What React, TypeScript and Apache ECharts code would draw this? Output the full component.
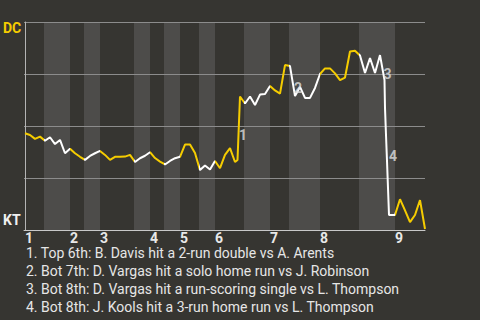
import React, { useEffect, useRef } from 'react';
import * as echarts from 'echarts';

// play index (x) and DC win probability in % (y)
const playIndex = [
  0, 1, 2, 3, 4, 5, 6, 7, 8, 9, 10, 11, 12, 13, 14, 15, 16, 17, 18, 19, 20,
  21, 22, 23, 24, 25, 26, 27, 28, 29, 30, 31, 32, 33, 34, 35, 36, 37, 38, 39, 40,
  41, 42, 42.5, 43, 44, 45, 46, 47, 48, 49, 50, 51, 52, 53, 54, 55, 56, 57, 58, 59,
  60, 61, 62, 63, 64, 65, 66, 67, 68, 69, 70, 71, 71.9, 72, 72.2, 72.4, 72.6, 72.8,
  74, 75, 76, 77, 78, 79, 80,
];
const dcWinPct = [
  46.5, 45.7, 43.8, 44.9, 42.9, 44.6, 41.3, 43.3, 36.9, 39.1, 36.9, 35.2, 33.7, 35.6, 36.9, 38.0, 36.1, 33.7, 35.2, 35.2, 35.3,
  36.1, 32.7, 34.5, 35.7, 37.4, 34.6, 32.9, 31.5, 33.2, 34.5, 35.2, 41.1, 41.1, 37.0, 28.8, 31.0, 29.1, 33.2, 29.7, 36.1,
  39.4, 32.7, 33.7, 64.2, 60.8, 64.2, 60.1, 65.1, 65.4, 69.2, 67.1, 65.6, 79.3, 78.8, 64.4, 68.8, 63.5, 63.5, 68.3, 75.0,
  77.7, 77.7, 75.3, 72.1, 73.3, 85.8, 86.2, 83.9, 75.5, 82.7, 75.5, 84.1, 72.1, 58.7, 45.7, 33.2, 20.2, 7.2,
  7.2, 14.8, 9.4, 3.8, 7.2, 14.4, 0.5,
];

// start of each half inning (top 1, bot 1, top 2, ...), in play index
const halfInningStarts = [0, 3.8, 9, 11.8, 15, 21.8, 25, 27.8, 31, 34.8, 38, 43.8, 49, 52.8, 59, 66.8, 74];
const lastPlay = 80;
const inningLabels = ['1', '2', '3', '4', '5', '6', '7', '8', '9'];

const awayTeam = 'DC';
const homeTeam = 'KT';

const annotationIds = ['1', '2', '3', '4'];
const annotationX = [43.6, 54.6, 72.5, 73.6];
const annotationY = [45.7, 68.1, 74.9, 35.8];

const notes = [
  '1. Top 6th: B. Davis hit a 2-run double vs A. Arents',
  '2. Bot 7th: D. Vargas hit a solo home run vs J. Robinson',
  '3. Bot 8th: D. Vargas hit a run-scoring single vs L. Thompson',
  '4. Bot 8th: J. Kools hit a 3-run home run vs L. Thompson',
];

const YELLOW = '#f5cc00';
const WHITE = '#ffffff';
const BG = '#363531';
const BAND = '#4d4c4a';
const FONT = 'Roboto';

export default function App() {
  const ref = useRef<HTMLDivElement>(null);

  useEffect(() => {
    if (!ref.current) return;
    const chart = echarts.init(ref.current, undefined, { renderer: 'svg' });

    const topStarts = halfInningStarts.filter((_, i) => i % 2 === 0);

    const bands: any[] = [];
    for (let k = 1; k < halfInningStarts.length; k += 2) {
      const end = k + 1 < halfInningStarts.length ? halfInningStarts[k + 1] : lastPlay;
      bands.push([{ xAxis: halfInningStarts[k] }, { xAxis: end }]);
    }

    const pieces: any[] = halfInningStarts.map((s, k) => {
      const p: any = { color: k % 2 === 0 ? YELLOW : WHITE };
      if (k > 0) p.gte = s;
      if (k + 1 < halfInningStarts.length) p.lt = halfInningStarts[k + 1];
      return p;
    });

    const graphics: any[] = [
      {
        type: 'text',
        x: 3,
        y: 28,
        style: { text: awayTeam, fill: YELLOW, font: `bold 14px ${FONT}`, verticalAlign: 'middle', lineHeight: 14 },
      },
      {
        type: 'text',
        x: 3,
        y: 220,
        style: { text: homeTeam, fill: '#f0f0f0', font: `bold 14px ${FONT}`, verticalAlign: 'middle', lineHeight: 14 },
      },
      ...notes.map((t, i) => ({
        type: 'text',
        x: 26,
        y: 253 + i * 18,
        style: { text: t, fill: '#e6e6e6', font: `14px ${FONT}`, verticalAlign: 'middle', lineHeight: 14 },
      })),
    ];

    chart.setOption({
      animation: false,
      backgroundColor: BG,
      grid: { left: 24, right: 55, top: 22, bottom: 90, containLabel: false },
      xAxis: {
        type: 'value',
        min: -0.2,
        max: lastPlay,
        z: 1,
        axisLine: { show: true, lineStyle: { color: '#c8c8c8', width: 1 } },
        axisTick: { show: false },
        splitLine: { show: false },
        axisLabel: {
          customValues: topStarts,
          formatter: (v: number) => {
            const idx = topStarts.findIndex((s) => Math.abs(s - v) < 1e-6);
            return idx >= 0 ? inningLabels[idx] : '';
          },
          align: 'left',
          margin: 1,
          lineHeight: 13,
          color: '#e8e8e8',
          fontSize: 14,
          fontWeight: 'bold',
          fontFamily: FONT,
        },
      },
      yAxis: {
        type: 'value',
        min: 0,
        max: 100,
        interval: 25,
        z: 1,
        axisLine: { show: true, lineStyle: { color: '#b4b4b4', width: 1 } },
        axisTick: { show: false },
        axisLabel: { show: false },
        splitLine: { show: true, lineStyle: { color: '#8c8c8c', width: 1 } },
      },
      visualMap: {
        type: 'piecewise',
        show: false,
        seriesIndex: 0,
        dimension: 0,
        pieces,
      },
      graphic: graphics,
      series: [
        {
          type: 'line',
          data: playIndex.map((x, i) => [x, dcWinPct[i]]),
          showSymbol: false,
          z: 2,
          lineStyle: { width: 2 },
          markArea: {
            silent: true,
            z: 0,
            itemStyle: { color: BAND },
            data: bands,
          },
        },
        {
          type: 'scatter',
          silent: true,
          z: 3,
          symbolSize: 1,
          itemStyle: { color: 'transparent' },
          data: annotationIds.map((id, i) => ({ name: id, value: [annotationX[i], annotationY[i]] })),
          label: {
            show: true,
            position: 'inside',
            formatter: '{b}',
            color: '#e0e0e0',
            fontSize: 14,
            fontWeight: 'bold',
            fontFamily: FONT,
          },
        },
      ],
    });

    return () => chart.dispose();
  }, []);

  return <div ref={ref} style={{ position: 'fixed', left: 0, top: 0, width: 480, height: 320 }} />;
}
